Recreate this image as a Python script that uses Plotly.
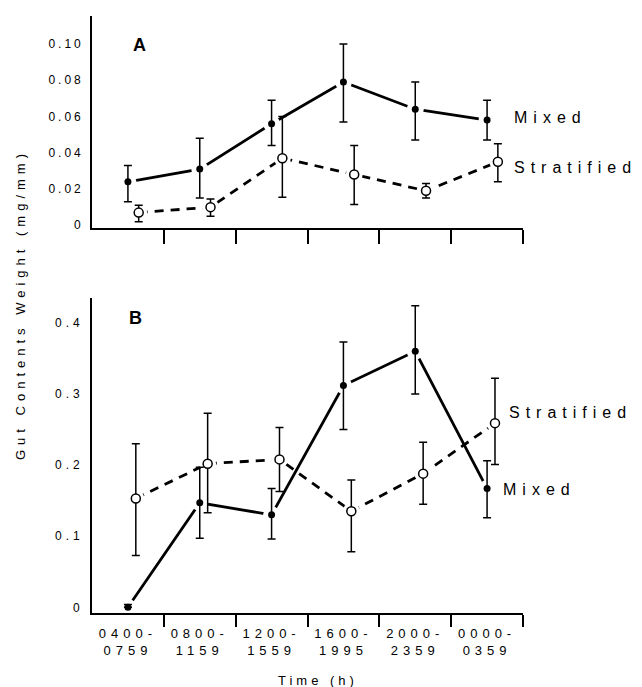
import plotly.graph_objects as go

# Time-of-day sampling bins (h)
time_start = ["0400", "0800", "1200", "1600", "2000", "0000"]
time_end = ["0759", "1159", "1559", "1995", "2359", "0359"]

# Panel A: gut contents weight (mg/mm), mean with error bar extents
a_mixed = [0.024, 0.031, 0.056, 0.079, 0.064, 0.058]
a_mixed_up = [0.009, 0.017, 0.013, 0.021, 0.015, 0.011]
a_mixed_dn = [0.011, 0.016, 0.012, 0.022, 0.017, 0.011]
a_strat = [0.007, 0.010, 0.037, 0.028, 0.019, 0.035]
a_strat_up = [0.004, 0.0045, 0.023, 0.016, 0.004, 0.010]
a_strat_dn = [0.005, 0.005, 0.0215, 0.0165, 0.004, 0.011]

# Panel B
b_mixed = [0.0, 0.147, 0.130, 0.312, 0.360, 0.167]
b_mixed_up = [0.004, 0.050, 0.037, 0.061, 0.064, 0.039]
b_mixed_dn = [0.0, 0.050, 0.034, 0.062, 0.060, 0.041]
b_strat = [0.153, 0.202, 0.208, 0.135, 0.188, 0.259]
b_strat_up = [0.077, 0.071, 0.045, 0.044, 0.044, 0.063]
b_strat_dn = [0.080, 0.069, 0.045, 0.057, 0.043, 0.058]

a_ticks = [0, 0.02, 0.04, 0.06, 0.08, 0.10]
a_ticklabels = ["0", "0.02", "0.04", "0.06", "0.08", "0.10"]
b_ticks = [0, 0.1, 0.2, 0.3, 0.4]
b_ticklabels = ["0", "0.1", "0.2", "0.3", "0.4"]

FONT = "Liberation Sans, Arial, Helvetica, sans-serif"
W, H = 642, 687
ML, MR, MT, MB = 92, 119, 16, 74
PW, PH = W - ML - MR, H - MT - MB


def spaced(text, px):
    return f"<span style='letter-spacing:{px}px'>{text}</span>"


def paper_x(px):
    return (px - ML) / PW


def paper_y(py):
    return (H - MB - py) / PH


n = len(time_start)
x_mixed = list(range(n))
dodge_a, dodge_b = 0.15, 0.11

fig = go.Figure()


def add_panel(xa, ya, mixed, m_up, m_dn, strat, s_up, s_dn, dodge):
    xs = [i + dodge for i in x_mixed]
    common = dict(xaxis=xa, yaxis=ya, showlegend=False, hoverinfo="skip")
    fig.add_trace(go.Scatter(x=x_mixed, y=mixed, mode="lines",
                             line=dict(color="black", width=2.8), **common))
    fig.add_trace(go.Scatter(x=xs, y=strat, mode="lines",
                             line=dict(color="black", width=2.8, dash="9px,7px"), **common))
    # white halos leave a small gap between connecting lines and the symbols
    fig.add_trace(go.Scatter(x=x_mixed + xs, y=mixed + strat, mode="markers",
                             marker=dict(color="white", size=17, line=dict(width=0)),
                             **common))
    fig.add_trace(go.Scatter(
        x=x_mixed, y=mixed, mode="markers",
        marker=dict(color="black", size=7),
        error_y=dict(type="data", array=m_up, arrayminus=m_dn, symmetric=False,
                     color="black", thickness=1.5, width=4),
        **common))
    fig.add_trace(go.Scatter(
        x=xs, y=strat, mode="markers",
        marker=dict(color="white", size=9, line=dict(color="black", width=1.5)),
        error_y=dict(type="data", array=s_up, arrayminus=s_dn, symmetric=False,
                     color="black", thickness=1.5, width=4),
        **common))


add_panel("x", "y", a_mixed, a_mixed_up, a_mixed_dn, a_strat, a_strat_up, a_strat_dn, dodge_a)
add_panel("x2", "y2", b_mixed, b_mixed_up, b_mixed_dn, b_strat, b_strat_up, b_strat_dn, dodge_b)

bounds = [i + 0.5 for i in range(n)]
centers = x_mixed
xrange_ = [-0.5, n - 0.5]

axis_common = dict(showgrid=False, zeroline=False, showline=True,
                   linecolor="black", linewidth=1.6)

dom_a = [paper_y(228), 1.0]
dom_b = [0.0, paper_y(298)]

fig.update_layout(
    width=W, height=H,
    margin=dict(l=ML, r=MR, t=MT, b=MB),
    paper_bgcolor="white", plot_bgcolor="white",
    font=dict(family=FONT, color="black", size=12),
    xaxis=dict(domain=[0, 1], range=xrange_, anchor="y",
               tickmode="array", tickvals=bounds, ticktext=[""] * n,
               ticks="outside", ticklen=14, tickwidth=2, tickcolor="black",
               **axis_common),
    yaxis=dict(domain=dom_a, range=[-0.0015, 0.1154], anchor="x",
               tickmode="array", tickvals=a_ticks,
               ticktext=[spaced(t, 3) for t in a_ticklabels],
               ticks="", ticklabelstandoff=4, tickfont=dict(size=12),
               **axis_common),
    xaxis2=dict(domain=[0, 1], range=xrange_, anchor="y2",
                tickmode="array", tickvals=centers,
                ticktext=[spaced(s + "-", 5) + "<br>" + spaced(e, 5)
                          for s, e in zip(time_start, time_end)],
                ticks="", ticklabelstandoff=8, tickfont=dict(size=13),
                minor=dict(tickmode="array", tickvals=bounds, ticks="outside",
                           ticklen=12, tickwidth=2, tickcolor="black", showgrid=False),
                **axis_common),
    yaxis2=dict(domain=dom_b, range=[-0.008, 0.435], anchor="x2",
                tickmode="array", tickvals=b_ticks,
                ticktext=[spaced(t, 4) for t in b_ticklabels],
                ticks="", ticklabelstandoff=4, tickfont=dict(size=12),
                **axis_common),
)

annotations = [
    dict(text="<b>A</b>", x=paper_x(139), y=paper_y(45), font=dict(size=18)),
    dict(text="<b>B</b>", x=paper_x(135), y=paper_y(318), font=dict(size=18)),
    dict(text=spaced("Mixed", 6), x=paper_x(512), y=paper_y(118),
         xanchor="left", font=dict(size=16)),
    dict(text=spaced("Stratified", 6), x=paper_x(512), y=paper_y(167),
         xanchor="left", font=dict(size=16)),
    dict(text=spaced("Stratified", 6), x=paper_x(507), y=paper_y(412),
         xanchor="left", font=dict(size=16)),
    dict(text=spaced("Mixed", 6), x=paper_x(501), y=paper_y(489),
         xanchor="left", font=dict(size=16)),
    dict(text=spaced("Time (h)", 4), x=paper_x(318), y=paper_y(680), font=dict(size=13)),
    dict(text=spaced("Gut Contents Weight (mg/mm)", 5), x=paper_x(20), y=paper_y(305),
         textangle=-90, font=dict(size=13)),
]
for a in annotations:
    a.setdefault("xanchor", "center")
    a.update(xref="paper", yref="paper", yanchor="middle", showarrow=False)
fig.update_layout(annotations=annotations)

fig.write_html("out.html")
